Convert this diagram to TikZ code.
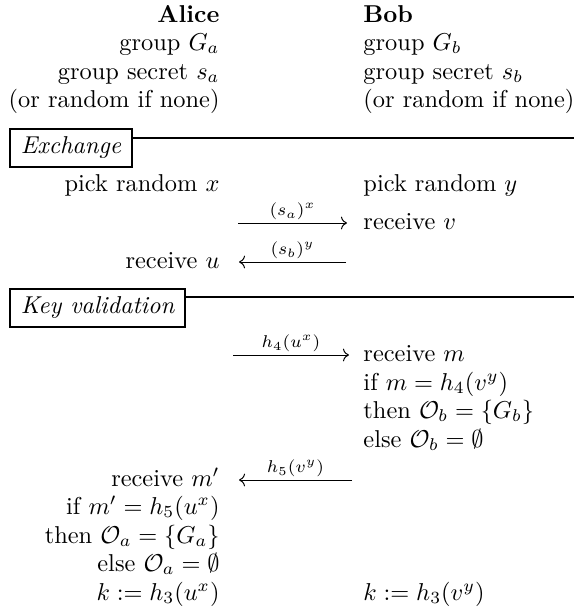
\documentclass[tikz,border=0pt]{standalone}
\usetikzlibrary{arrows.meta}
\begin{document}
\begin{tikzpicture}[
    x=0.41pt, y=-0.41pt,
    alicecol/.style={anchor=base east, inner sep=0pt},
    bobcol/.style={anchor=base west, inner sep=0pt},
    phase/.style={draw=black, line width=0.8pt, font=\itshape, anchor=north west, inner xsep=4.5pt, inner ysep=0pt, minimum height=15.5pt},
    rule/.style={draw=black, line width=0.85pt},
    msg/.style={-{Computer Modern Rightarrow}, line width=0.4pt},
    msglabel/.style={midway, anchor=base, yshift=3pt, inner sep=0pt, font=\scriptsize}
]
\useasboundingbox (0,0) rectangle (574,616);

% Naglowek: strony i ich dane
\node[alicecol] (alice) at (220,22) {\textbf{Alice}};
\node[bobcol] (bob) at (363,22) {\textbf{Bob}};
\node[alicecol] (groupa) at (220,50) {group $G_a$};
\node[bobcol] (groupb) at (363,50) {group $G_b$};
\node[alicecol] (secreta) at (220,79) {group secret $s_a$};
\node[bobcol] (secretb) at (363,79) {group secret $s_b$};
\node[alicecol] (randa) at (220,107) {(or random if none)};
\node[bobcol] (randb) at (363,107) {(or random if none)};

% Faza wymiany
\node[phase] (exchange) at (9,128) {Exchange};
\coordinate (exchangeend) at (574,138);
\draw[rule] (exchange.east |- exchangeend) -- (exchangeend);

\node[alicecol] (picka) at (220,191) {pick random $x$};
\node[bobcol] (pickb) at (363,191) {pick random $y$};
\node[bobcol] (recvv) at (363,229) {receive $v$};
\node[alicecol] (recvu) at (220,268) {receive $u$};

\coordinate (msgastart) at (238,223);
\coordinate (msgbstart) at (346,262);
\draw[msg] (msgastart) -- ([shift={(-16,-6)}]recvv.base west) node[msglabel] {$(s_a)^x$};
\draw[msg] (msgbstart) -- ([shift={(19,-6)}]recvu.base east) node[msglabel] {$(s_b)^y$};

% Faza walidacji klucza
\node[phase] (keyval) at (9,288) {Key validation};
\coordinate (keyvalend) at (574,297);
\draw[rule] (keyval.east |- keyvalend) -- (keyvalend);

\node[bobcol] (recvm) at (363,361) {receive $m$};
\node[bobcol] (checkb) at (363,390) {if $m = h_4(v^y)$};
\node[bobcol] (thenb) at (363,418) {then $\mathcal{O}_b = \{G_b\}$};
\node[bobcol] (elseb) at (363,447) {else $\mathcal{O}_b = \emptyset$};

\node[alicecol] (recvmp) at (220,486) {receive $m'$};
\node[alicecol] (checka) at (220,514) {if $m' = h_5(u^x)$};
\node[alicecol] (thena) at (220,543) {then $\mathcal{O}_a = \{G_a\}$};
\node[alicecol] (elsea) at (220,571) {else $\mathcal{O}_a = \emptyset$};

\coordinate (msgcstart) at (233,355);
\coordinate (msgdstart) at (352,480);
\draw[msg] (msgcstart) -- ([shift={(-14,-6)}]recvm.base west) node[msglabel] {$h_4(u^x)$};
\draw[msg] (msgdstart) -- ([shift={(19,-6)}]recvmp.base east) node[msglabel] {$h_5(v^y)$};

% Klucz wynikowy
\node[alicecol] (keya) at (220,600) {$k := h_3(u^x)$};
\node[bobcol] (keyb) at (363,600) {$k := h_3(v^y)$};

\end{tikzpicture}
\end{document}
